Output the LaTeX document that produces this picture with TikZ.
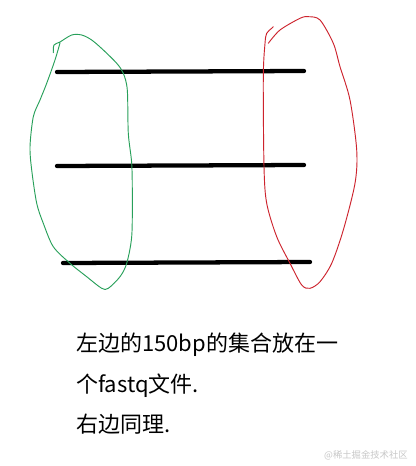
\documentclass[tikz,border=0pt]{standalone}
\usepackage{fontspec}
\newfontfamily\cjk{Noto Sans CJK SC}
\definecolor{loopgreen}{RGB}{40,160,90}
\definecolor{loopred}{RGB}{205,35,45}
\definecolor{wmgray}{RGB}{200,200,200}
\tikzset{
  readline/.style={line width=3.2pt, line cap=round, black},
  loopline/.style={line width=0.7pt, line join=round, line cap=round},
  caption/.style={anchor=base west, inner sep=0pt, font=\cjk\fontsize{16.5pt}{20pt}\selectfont},
}
\begin{document}
\begin{tikzpicture}[x=0.75pt,y=-0.75pt]
\useasboundingbox[fill=white] (0,0) rectangle (415,466);
% reads
\coordinate (l1a) at (57,72);  \coordinate (l1b) at (304,71);
\coordinate (l2a) at (57,166); \coordinate (l2b) at (304,165);
\coordinate (l3a) at (63,263); \coordinate (l3b) at (310,262);
\draw[readline] (l1a) -- (l1b);
\draw[readline] (l2a) -- (l2b);
\draw[readline] (l3a) -- (l3b);
% green loop (left)
\draw[loopline, loopgreen] plot[smooth, tension=0.5] coordinates {
 (53.3,52.7) (54,45) (60,42) (71.7,35) (81.7,35) (91.7,40) (103.3,50) (116.7,63.3)
 (123.3,73.3) (127.3,90) (128.3,133.3) (131.7,163.3) (132.3,196.7) (131.7,236.7)
 (126.7,263.3) (120,276.7) (108.3,288.3) (101.7,288.3) (86.7,276.7) (70,263.3)
 (53.3,246.7) (43.3,223.3) (36.7,203.3) (31.7,170) (30,146.7) (33.3,116.7)
 (40,100) (46.7,83.3) (55,60) (60,43)};
% red loop (right)
\draw[loopline, loopred] plot[smooth, tension=0.5] coordinates {
 (273.3,26.7) (271.7,28.3) (266.7,33.3) (265,43.3) (263.3,76.7) (264,166.7)
 (266.7,203.3) (276.7,236.7) (290,263.3) (301.7,285) (310,288.3) (320,281.7)
 (331.7,263.3) (343.3,230) (355,183.3) (356.7,150) (350,100) (340,66.7)
 (333.3,43.3) (320,20) (308.3,16.7) (300,18.3) (280,30) (268.3,43.3)};
% caption
\node[caption] (t1) at (76,351) {左边的150bp的集合放在一};
\node[caption] (t2) at (76,392) {个fastq文件.};
\node[caption] (t3) at (76,432) {右边同理.};
% watermark
\node[anchor=base east, inner sep=0pt, text=wmgray, font=\cjk\fontsize{7pt}{8pt}\selectfont] (wm) at (408,458) {@稀土掘金技术社区};
\end{tikzpicture}
\end{document}
